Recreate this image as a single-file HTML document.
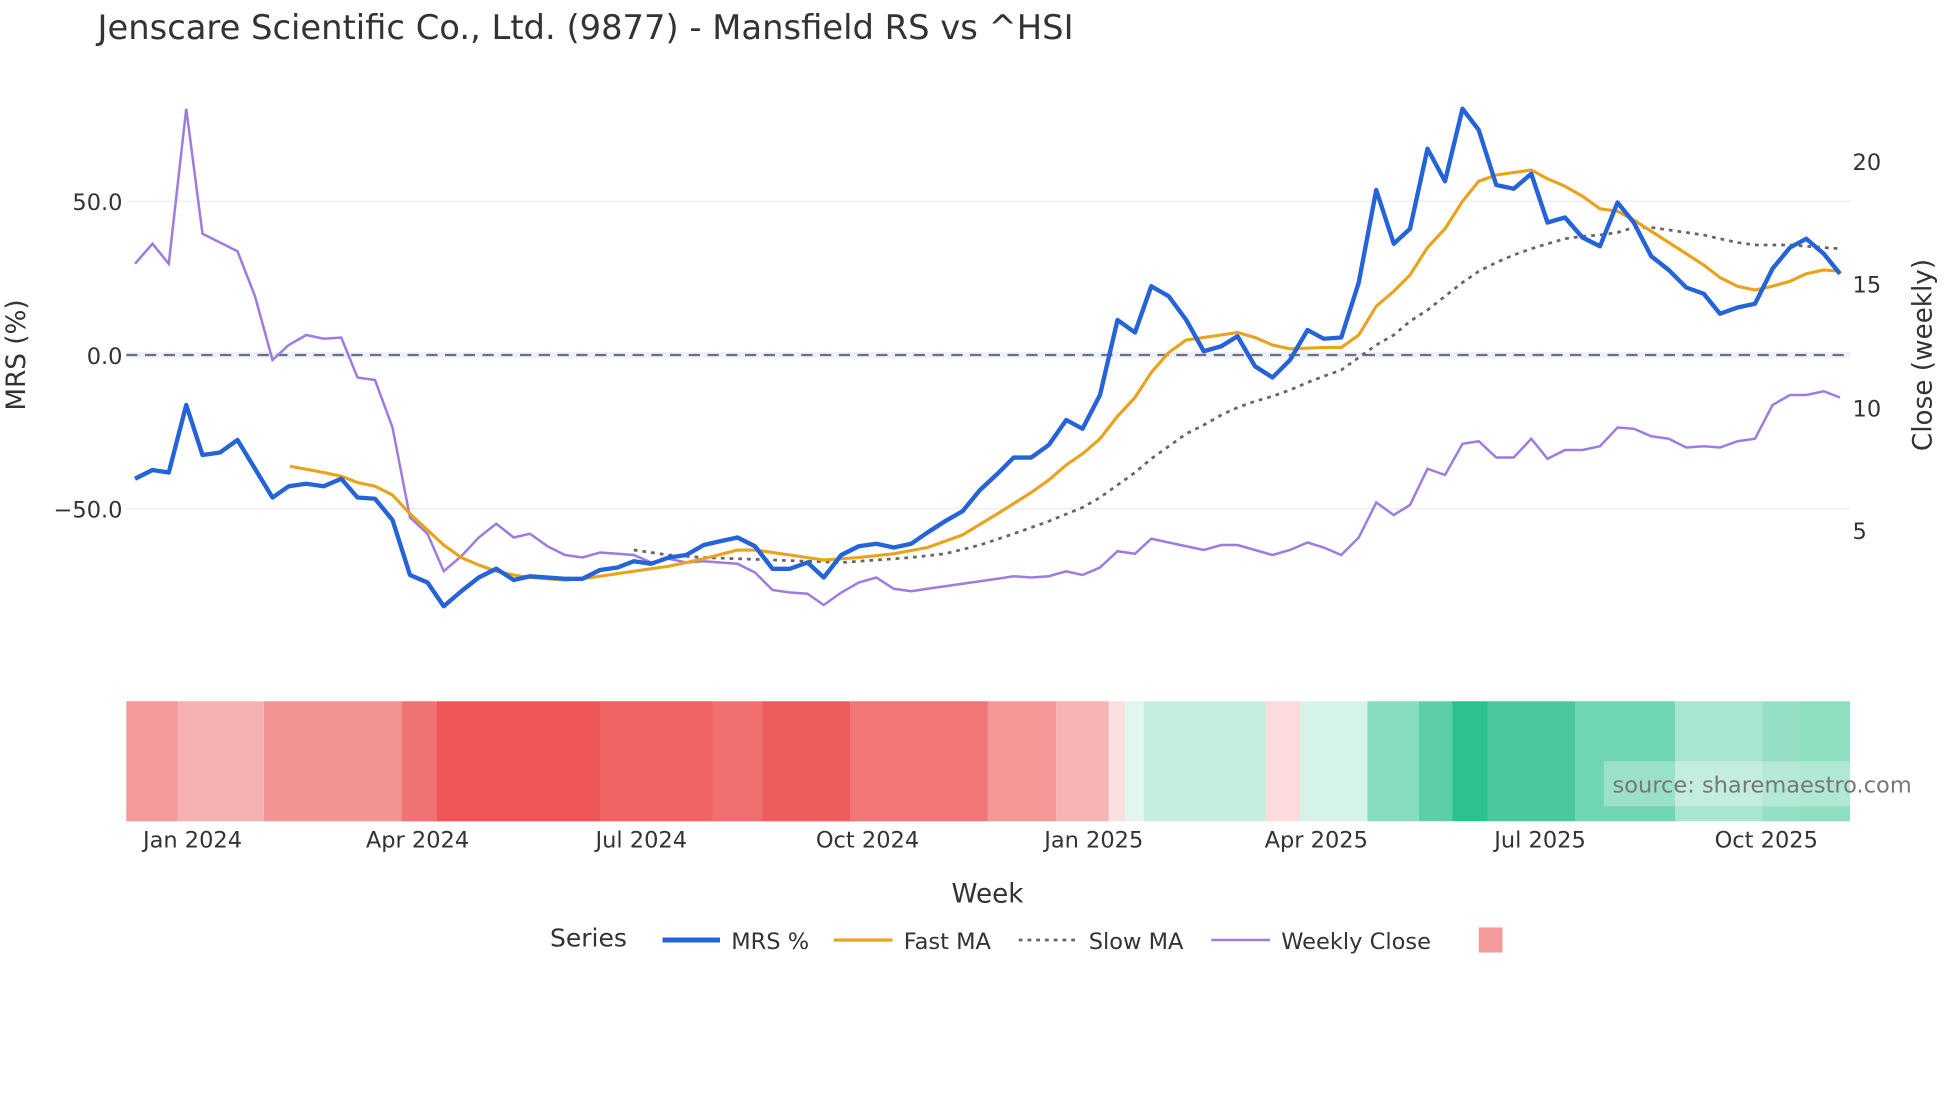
<!DOCTYPE html>
<html><head><meta charset="utf-8"><style>
html,body{margin:0;padding:0;background:#fff;}
svg{display:block;font-family:"DejaVu Sans","Liberation Sans",sans-serif;}
</style></head><body>
<svg width="1960" height="1102" viewBox="0 0 1568 881.6" preserveAspectRatio="none" xmlns="http://www.w3.org/2000/svg">
<rect width="1568" height="882" fill="#fff"/>
<text x="78" y="31" font-size="27" fill="#333">Jenscare Scientific Co., Ltd. (9877) - Mansfield RS vs ^HSI</text>
<line x1="101" x2="1480" y1="161" y2="161" stroke="#ebebf0" stroke-width="1"/>
<line x1="101" x2="1480" y1="407" y2="407" stroke="#ebebf0" stroke-width="1"/>
<line x1="101" x2="1480" y1="284" y2="284" stroke="#eef0fa" stroke-width="5"/>
<line x1="101" x2="1480" y1="284" y2="284" stroke="#6b7080" stroke-width="1.8" stroke-dasharray="9,6"/>
<g font-size="18" fill="#333" text-anchor="end">
<text x="98" y="168">50.0</text><text x="98" y="291">0.0</text><text x="98" y="414">−50.0</text>
</g>
<g font-size="18" fill="#333">
<text x="1482" y="136">20</text><text x="1482" y="234">15</text><text x="1482" y="333">10</text><text x="1482" y="431">5</text>
</g>
<text transform="translate(20,284) rotate(-90)" font-size="21" fill="#333" text-anchor="middle">MRS (%)</text>
<text transform="translate(1545,284) rotate(-90)" font-size="21" fill="#333" text-anchor="middle">Close (weekly)</text>

<polyline fill="none" stroke="#9d7ce0" stroke-width="2" points="108,211 122,195 135,211 149,87 162,187 176,194 190,201 204,237 218,288 231,276 245,268 259,271 273,270 286,302 300,304 314,342 328,414 342,427 355,457 369,445 383,430 397,419 411,430 424,427 438,437 452,444 466,446 480,442 494,443 507,444 521,450 535,447 549,450 563,449 576,450 590,451 604,458 618,472 632,474 646,475 659,484 673,474 687,466 701,462 715,471 729,473 742,471 756,469 770,467 784,465 798,463 811,461 825,462 839,461 853,457 866,460 880,454 894,441 908,443 921,431 935,434 949,437 963,440 977,436 990,436 1004,440 1018,444 1032,440 1046,434 1059,438 1073,444 1087,430 1101,402 1115,412 1128,404 1142,375 1156,380 1170,355 1183,353 1197,366 1211,366 1225,351 1238,367 1252,360 1266,360 1280,357 1294,342 1307,343 1321,349 1335,351 1349,358 1363,357 1376,358 1390,353 1404,351 1418,324 1432,316 1445,316 1459,313 1472,318"/>
<polyline fill="none" stroke="#666" stroke-width="2.2" stroke-dasharray="3,4" points="507,440 535,444 563,446 590,447 618,448 646,449 673,450 701,448 729,446 756,443 784,436 811,427 839,417 866,406 880,398 894,388 908,378 921,367 935,357 949,347 963,340 977,332 990,326 1004,321 1018,317 1032,312 1046,306 1059,301 1073,296 1087,286 1101,276 1115,268 1128,257 1142,248 1156,237 1170,226 1183,217 1197,210 1211,204 1225,199 1238,195 1252,191 1266,189 1280,188 1294,186 1307,182 1321,182 1335,184 1349,186 1363,188 1376,191 1390,194 1404,196 1418,196 1432,196 1445,197 1459,198 1472,199"/>
<polyline fill="none" stroke="#e8a21c" stroke-width="2.5" points="232,373 259,378 273,381 286,386 300,389 314,396 328,411 342,424 355,436 369,446 383,452 397,457 411,460 424,462 452,464 466,463 480,461 507,457 535,453 563,447 590,440 604,440 632,444 659,448 687,446 715,443 742,438 770,428 798,411 825,394 839,384 853,372 866,363 880,351 894,333 908,318 921,298 935,282 949,272 963,270 977,268 990,266 1004,270 1018,276 1032,279 1059,278 1073,278 1087,268 1101,245 1115,233 1128,220 1142,198 1156,183 1170,161 1183,145 1197,140 1211,138 1225,136 1238,143 1252,149 1266,157 1280,167 1294,169 1307,176 1321,185 1335,194 1349,203 1363,212 1376,222 1390,229 1404,232 1418,229 1432,225 1445,219 1459,216 1472,217"/>
<polyline fill="none" stroke="#2563d9" stroke-width="3.5" stroke-linejoin="round" points="108,383 122,376 135,378 149,324 162,364 176,362 190,352 204,375 218,398 231,389 245,387 259,389 273,383 286,398 300,399 314,416 328,460 342,466 355,485 369,473 383,462 397,455 411,464 424,461 438,462 452,463 466,463 480,456 494,454 507,449 521,451 535,446 549,444 563,436 576,433 590,430 604,437 618,455 632,455 646,450 659,462 673,444 687,437 701,435 715,438 729,435 742,426 756,417 770,409 784,392 798,379 811,366 825,366 839,356 853,336 866,343 880,316 894,256 908,266 921,229 935,237 949,256 963,281 977,277 990,269 1004,293 1018,302 1032,288 1046,264 1059,271 1073,270 1087,226 1101,152 1115,195 1128,183 1142,119 1156,145 1170,87 1183,104 1197,148 1211,151 1225,139 1238,178 1252,174 1266,190 1280,197 1294,162 1307,178 1321,205 1335,216 1349,230 1363,235 1376,251 1390,246 1404,243 1418,215 1432,198 1445,191 1459,203 1472,219"/>

<g>
<rect x="101" y="561" width="41" height="96" fill="#f39a9a"/>
<rect x="142" y="561" width="69" height="96" fill="#f5b1b1"/>
<rect x="211" y="561" width="110" height="96" fill="#f39494"/>
<rect x="321" y="561" width="28" height="96" fill="#f07373"/>
<rect x="349" y="561" width="131" height="96" fill="#ef5656"/>
<rect x="480" y="561" width="90" height="96" fill="#f06363"/>
<rect x="570" y="561" width="40" height="96" fill="#f07070"/>
<rect x="610" y="561" width="70" height="96" fill="#ef5c5c"/>
<rect x="680" y="561" width="110" height="96" fill="#f17676"/>
<rect x="790" y="561" width="55" height="96" fill="#f39797"/>
<rect x="845" y="561" width="42" height="96" fill="#f6b4b4"/>
<rect x="887" y="561" width="13" height="96" fill="#fce0e0"/>
<rect x="900" y="561" width="15" height="96" fill="#e2f5ee"/>
<rect x="915" y="561" width="97" height="96" fill="#c6eedf"/>
<rect x="1012" y="561" width="28" height="96" fill="#fcdcdc"/>
<rect x="1040" y="561" width="54" height="96" fill="#d5f3e8"/>
<rect x="1094" y="561" width="41" height="96" fill="#88ddbe"/>
<rect x="1135" y="561" width="27" height="96" fill="#5ccfa6"/>
<rect x="1162" y="561" width="28" height="96" fill="#2dc28d"/>
<rect x="1190" y="561" width="70" height="96" fill="#4bc99d"/>
<rect x="1260" y="561" width="80" height="96" fill="#70d5b1"/>
<rect x="1340" y="561" width="70" height="96" fill="#a9e6cf"/>
<rect x="1410" y="561" width="30" height="96" fill="#95e0c4"/>
<rect x="1440" y="561" width="40" height="96" fill="#8edfc0"/>
</g>
<rect x="1283" y="609" width="197" height="36" fill="#fff" fill-opacity="0.3"/>
<text x="1290" y="634" font-size="18" fill="#777">source: sharemaestro.com</text>

<g font-size="18" fill="#333" text-anchor="middle">
<text x="154" y="678">Jan 2024</text><text x="334" y="678">Apr 2024</text><text x="513" y="678">Jul 2024</text><text x="694" y="678">Oct 2024</text>
<text x="875" y="678">Jan 2025</text><text x="1053" y="678">Apr 2025</text><text x="1232" y="678">Jul 2025</text><text x="1413" y="678">Oct 2025</text>
</g>
<text x="790" y="722" font-size="21" fill="#333" text-anchor="middle">Week</text>

<text x="440" y="757" font-size="20" fill="#333">Series</text>
<line x1="530" x2="576" y1="752" y2="752" stroke="#2563d9" stroke-width="4"/>
<text x="585" y="759" font-size="18" fill="#333">MRS %</text>
<line x1="667" x2="714" y1="752" y2="752" stroke="#e8a21c" stroke-width="2.5"/>
<text x="723" y="759" font-size="18" fill="#333">Fast MA</text>
<line x1="815" x2="860" y1="752" y2="752" stroke="#666" stroke-width="2.2" stroke-dasharray="3,4"/>
<text x="871" y="759" font-size="18" fill="#333">Slow MA</text>
<line x1="969" x2="1016" y1="752" y2="752" stroke="#9d7ce0" stroke-width="2"/>
<text x="1025" y="759" font-size="18" fill="#333">Weekly Close</text>
<rect x="1183" y="742" width="19" height="20" fill="#f39a9a"/>
</svg>
</body></html>
